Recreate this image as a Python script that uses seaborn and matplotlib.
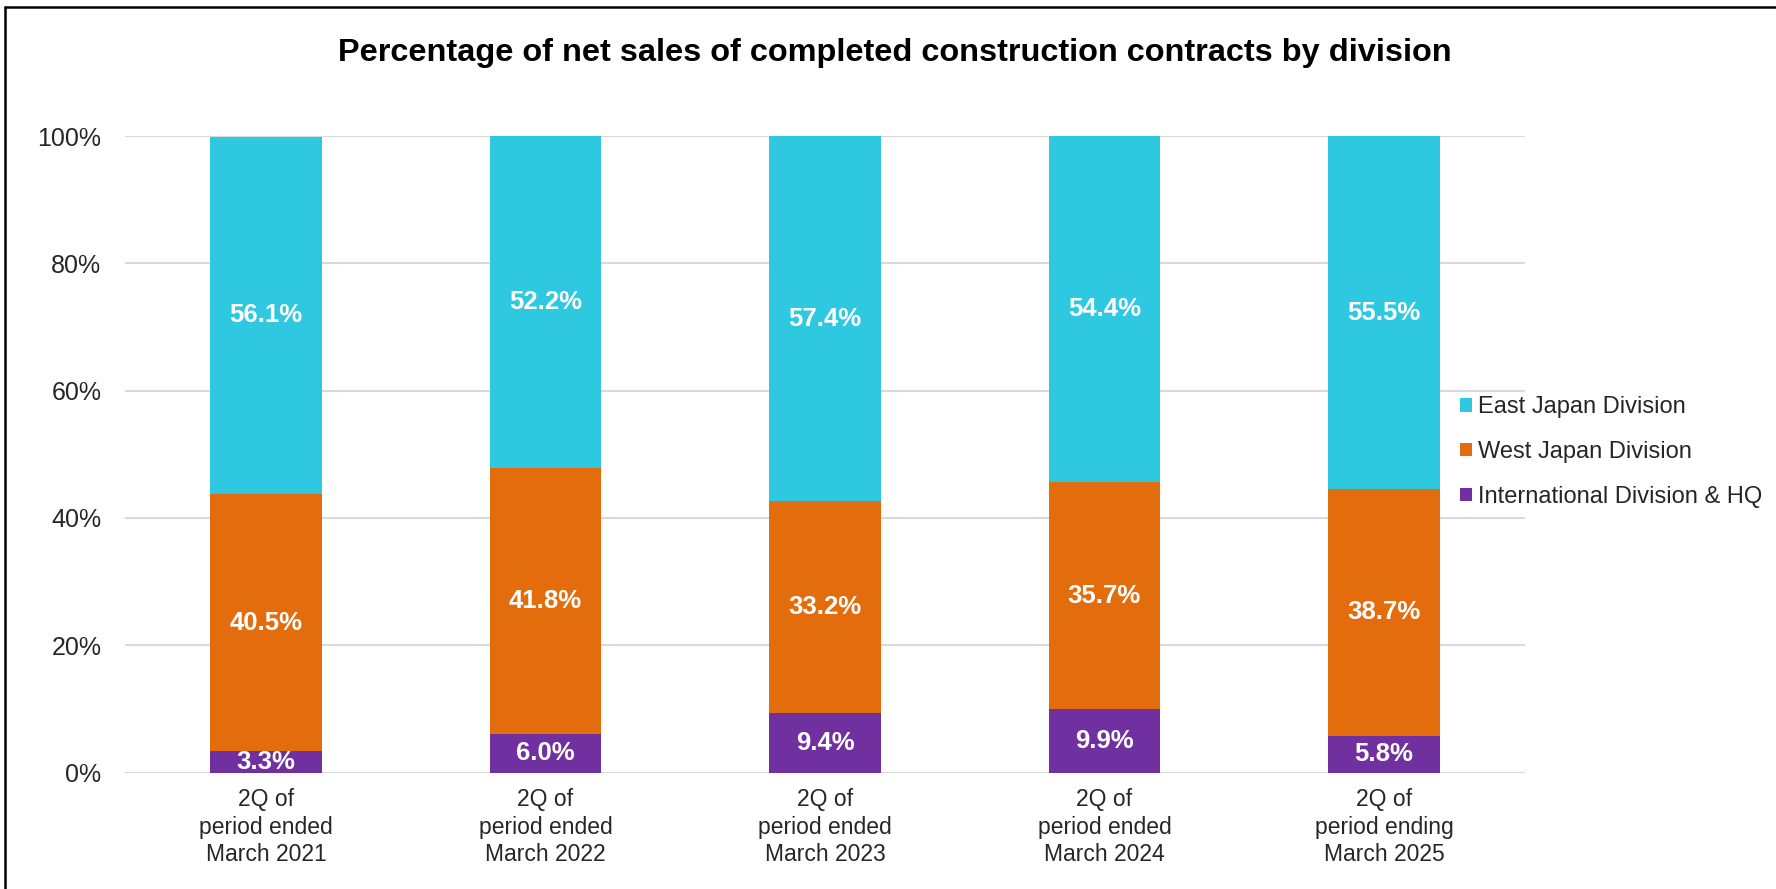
import matplotlib
matplotlib.use("Agg")
import matplotlib.pyplot as plt
from matplotlib.lines import Line2D
from matplotlib.patches import Patch
import seaborn as sns
import pandas as pd
import numpy as np

categories = [
    "2Q of\nperiod ended\nMarch 2021",
    "2Q of\nperiod ended\nMarch 2022",
    "2Q of\nperiod ended\nMarch 2023",
    "2Q of\nperiod ended\nMarch 2024",
    "2Q of\nperiod ending\nMarch 2025",
]
intl_hq = [3.3, 6.0, 9.4, 9.9, 5.8]
west_japan = [40.5, 41.8, 33.2, 35.7, 38.7]
east_japan = [56.1, 52.2, 57.4, 54.4, 55.5]
series_names = ["East Japan Division", "West Japan Division", "International Division & HQ"]
colors = {"East Japan Division": "#2EC8E1",
          "West Japan Division": "#E36C0C",
          "International Division & HQ": "#7030A0"}
yticks = [0, 20, 40, 60, 80, 100]

sns.set_theme(style="white")
plt.rcParams["font.family"] = ["Liberation Sans", "DejaVu Sans"]

fig = plt.figure(figsize=(17.76, 8.89), dpi=100)
ax = fig.add_axes([125 / 1776, 1 - 772.5 / 889, (1525 - 125) / 1776, (772.5 - 136) / 889])

intl = np.array(intl_hq)
west = np.array(west_japan)
east = np.array(east_japan)
top_west = intl + west
top_east = top_west + east

df = pd.DataFrame({"cat": categories, "intl": intl, "west_top": top_west, "east_top": top_east})

# overlap drawing for stacked bars
sns.barplot(data=df, x="cat", y="east_top", color=colors["East Japan Division"],
            width=0.4, linewidth=0, saturation=1, ax=ax, zorder=2)
sns.barplot(data=df, x="cat", y="west_top", color=colors["West Japan Division"],
            width=0.4, linewidth=0, saturation=1, ax=ax, zorder=2)
sns.barplot(data=df, x="cat", y="intl", color=colors["International Division & HQ"],
            width=0.4, linewidth=0, saturation=1, ax=ax, zorder=2)

# labels centred in segments
for i in range(len(categories)):
    segs = [(intl[i] / 2, intl[i]), (intl[i] + west[i] / 2, west[i]), (top_west[i] + east[i] / 2, east[i])]
    for yc, v in segs:
        ax.text(i, yc, f"{v:.1f}%", ha="center", va="center", color="white",
                fontsize=18.5, fontweight="bold", clip_on=True, zorder=4)

ax.set_xlim(-0.505, 4.505)
ax.set_ylim(0, 100)
ax.set_yticks(yticks)
ax.set_yticklabels([f"{t}%" for t in yticks], fontsize=18)
ax.tick_params(axis="y", length=0, pad=17)
ax.tick_params(axis="x", length=0, pad=11, labelsize=16.5)
for lab in ax.get_xticklabels():
    lab.set_linespacing(1.27)
ax.set_xlabel("")
ax.set_ylabel("")
ax.grid(axis="y", color="#D9D9D9", linewidth=1.5, zorder=0)
ax.set_axisbelow(True)
for s in ax.spines.values():
    s.set_visible(False)

fig.text(895 / 1776, 1 - 61 / 889, "Percentage of net sales of completed construction contracts by division",
         ha="center", va="baseline", fontsize=23.4, fontweight="bold", color="black")

handles = [Patch(facecolor=colors[n], edgecolor="none", label=n) for n in series_names]
fig.legend(handles=handles, loc="center left", bbox_to_anchor=(1460 / 1776, 1 - 452 / 889),
           frameon=False, fontsize=17, handlelength=0.51, handleheight=0.51,
           handletextpad=0.25, labelspacing=0.97, borderaxespad=0, borderpad=0)

# outer border (left and top visible)
fig.add_artist(Line2D([4.5 / 1776, 4.5 / 1776], [0, 1 - 7.3 / 889], color="black", linewidth=1.8,
                      transform=fig.transFigure))
fig.add_artist(Line2D([4.5 / 1776, 1.0], [1 - 7.3 / 889, 1 - 7.3 / 889], color="black", linewidth=1.8,
                      transform=fig.transFigure))

fig.savefig("out.png", dpi=100, facecolor="white")
